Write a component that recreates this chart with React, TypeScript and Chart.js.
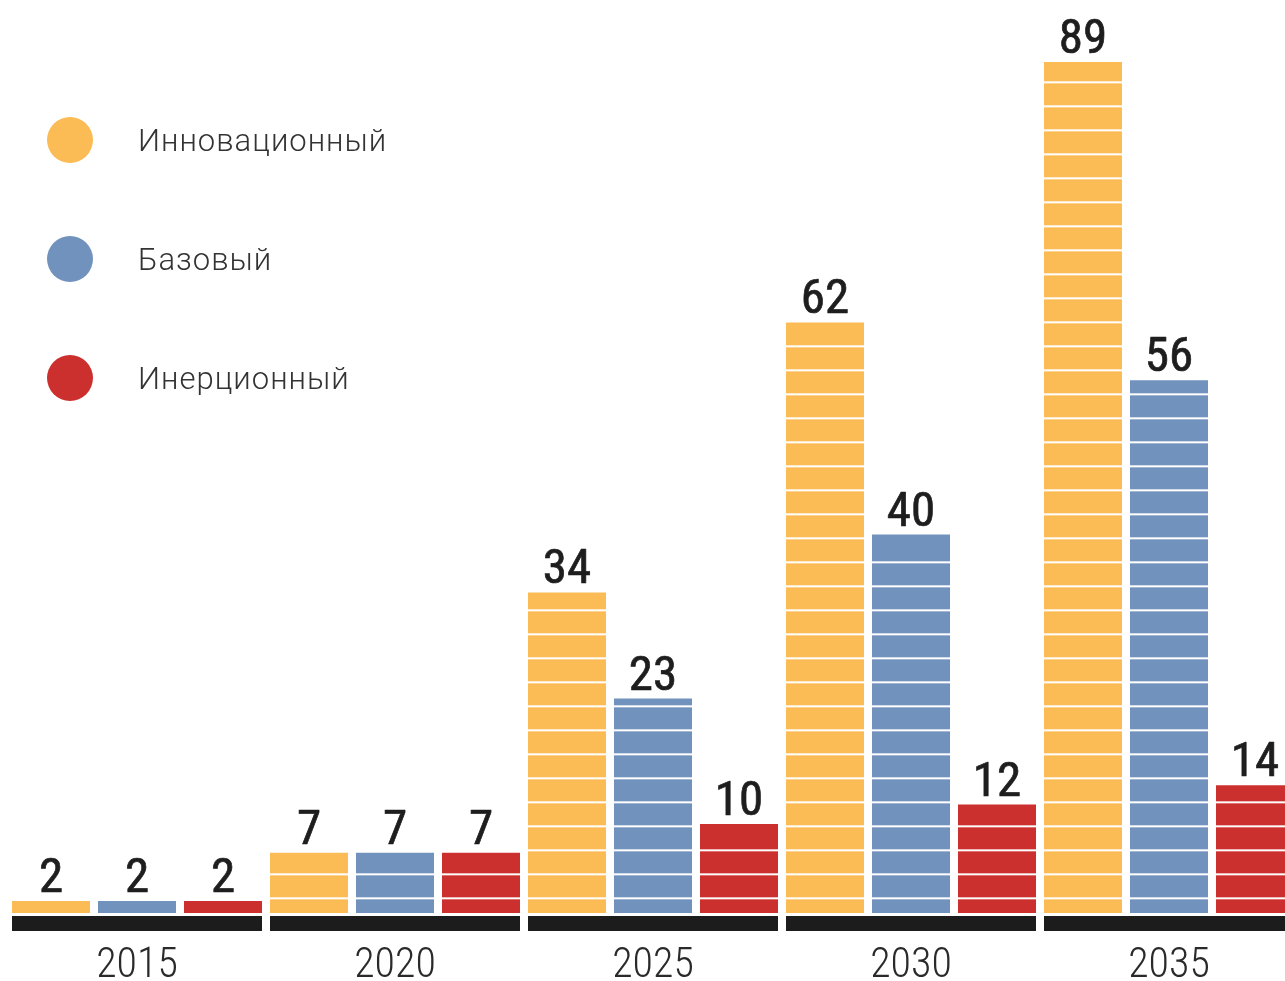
import React, { useEffect, useRef } from "react";
import { Chart, registerables } from "chart.js";

Chart.register(...registerables);

// ---- data ----
const years = ["2015", "2020", "2025", "2030", "2035"];
const seriesNames = ["Инновационный", "Базовый", "Инерционный"];
const innovativeValues = [2, 7, 34, 62, 89];
const baseValues = [2, 7, 23, 40, 56];
const inertialValues = [2, 7, 10, 12, 14];
const seriesColors = ["#FBBC56", "#7292BE", "#CC302E"];
const yMin = 0.76;
const yMax = 93.36;

const NARROW = "'Roboto Condensed', 'Liberation Sans Narrow', Roboto, sans-serif";

const stripesPlugin = {
  id: "stripes",
  afterDatasetsDraw(chart: any) {
    const ctx = chart.ctx;
    chart.data.datasets.forEach((_ds: any, i: number) => {
      const meta = chart.getDatasetMeta(i);
      meta.data.forEach((bar: any) => {
        const { x, y, base, width } = bar.getProps(["x", "y", "base", "width"], true);
        const left = x - width / 2;
        ctx.save();
        ctx.fillStyle = "#ffffff";
        for (let yy = base - 22; yy > y + 4; yy -= 24) {
          ctx.fillRect(left, yy - 1, width, 2);
        }
        ctx.restore();
      });
    });
  },
};

const baseStripPlugin = {
  id: "baseStrip",
  afterDatasetsDraw(chart: any) {
    const ctx = chart.ctx;
    const area = chart.chartArea;
    const n = chart.data.labels.length;
    const first = chart.getDatasetMeta(0);
    const last = chart.getDatasetMeta(chart.data.datasets.length - 1);
    ctx.save();
    ctx.fillStyle = "#1c1c1c";
    for (let j = 0; j < n; j++) {
      const a = first.data[j];
      const b = last.data[j];
      const l = a.x - a.width / 2;
      const r = b.x + b.width / 2;
      ctx.fillRect(l, area.bottom + 3, r - l, 15);
    }
    ctx.restore();
  },
};

const valueLabelPlugin = {
  id: "valueLabels",
  afterDatasetsDraw(chart: any) {
    const ctx = chart.ctx;
    ctx.save();
    ctx.font = `normal 49px ${NARROW}`;
    ctx.fillStyle = "#1e1e1e";
    ctx.strokeStyle = "#1e1e1e";
    ctx.lineWidth = 0.7;
    ctx.lineJoin = "round";
    ctx.textAlign = "center";
    ctx.textBaseline = "alphabetic";
    chart.data.datasets.forEach((ds: any, i: number) => {
      const meta = chart.getDatasetMeta(i);
      meta.data.forEach((bar: any, j: number) => {
        const t = String(ds.data[j]);
        ctx.fillText(t, bar.x, bar.y - 9);
        ctx.strokeText(t, bar.x, bar.y - 9);
      });
    });
    ctx.restore();
  },
};

export default function App() {
  const canvasRef = useRef<HTMLCanvasElement | null>(null);

  useEffect(() => {
    document.body.style.margin = "0";
    const canvas = canvasRef.current;
    if (!canvas) return;
    const values = [innovativeValues, baseValues, inertialValues];
    const chart = new Chart(canvas, {
      type: "bar",
      data: {
        labels: years,
        datasets: seriesNames.map((name, i) => ({
          label: name,
          data: values[i],
          backgroundColor: seriesColors[i],
          borderWidth: 0,
          barPercentage: 0.907,
          categoryPercentage: 1,
        })),
      },
      options: {
        responsive: false,
        animation: false,
        devicePixelRatio: 1,
        layout: { padding: { left: 8, right: 2, top: 20, bottom: 0 } },
        plugins: {
          legend: { display: false },
          tooltip: { enabled: false },
        },
        scales: {
          x: {
            grid: { display: false, drawTicks: false },
            border: { display: false },
            ticks: {
              padding: 32,
              color: "#2a2a2a",
              font: { family: NARROW, size: 42, weight: "300", lineHeight: 1 },
            },
          },
          y: {
            display: false,
            min: yMin,
            max: yMax,
          },
        },
      },
      plugins: [stripesPlugin, baseStripPlugin, valueLabelPlugin],
    });
    return () => chart.destroy();
  }, []);

  const legendTop = [140, 259, 378];

  return (
    <div style={{ position: "relative", width: 1285, height: 981, overflow: "hidden", background: "#fff" }}>
      <canvas ref={canvasRef} width={1300} height={1019} style={{ position: "absolute", left: 0, top: 0 }} />
      {seriesNames.map((name, i) => (
        <div
          key={name}
          style={{
            position: "absolute",
            left: 47,
            top: legendTop[i] - 23,
            height: 46,
            display: "flex",
            alignItems: "center",
            whiteSpace: "nowrap",
          }}
        >
          <span
            style={{
              display: "inline-block",
              width: 46,
              height: 46,
              borderRadius: "50%",
              background: seriesColors[i],
            }}
          />
          <span
            style={{
              marginLeft: 45,
              fontFamily: "Roboto, sans-serif",
              fontWeight: 300,
              fontSize: 31,
              letterSpacing: 1.0,
              color: "#333",
            }}
          >
            {name}
          </span>
        </div>
      ))}
    </div>
  );
}
